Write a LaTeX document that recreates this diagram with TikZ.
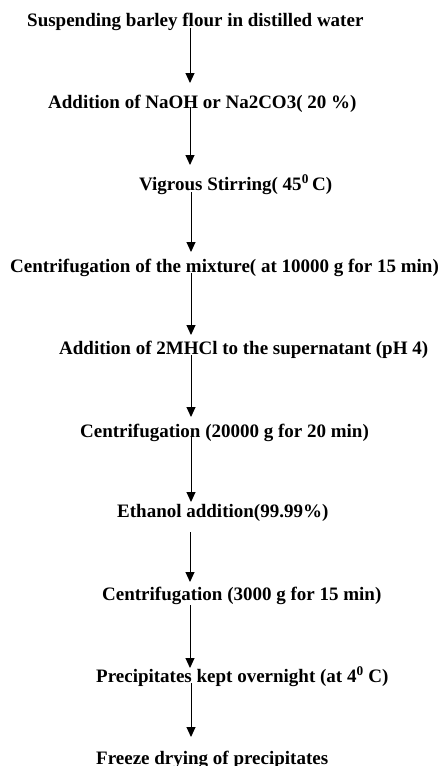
\documentclass[tikz,border=0pt]{standalone}
\usepackage{fontspec}
\setmainfont{Liberation Serif}
\usetikzlibrary{arrows.meta}
\begin{document}
\begin{tikzpicture}[x=1pt,y=-1pt,
  stepbox/.style={anchor=base west,inner sep=0pt,font=\fontsize{19}{22}\selectfont\bfseries,text=black},
  flow/.style={draw=black,line width=1pt,-{Triangle[width=9pt,length=10pt]}}]
\useasboundingbox[fill=white] (0,0) rectangle (443,766);
\node[stepbox] (n1) at (27,26) {Suspending barley flour in distilled water};
\node[stepbox] (n2) at (48,108) {Addition of NaOH or Na2CO3( 20 \%)};
\node[stepbox] (n3) at (139,190) {Vigrous Stirring( 45\textsuperscript{0}\,C)};
\node[stepbox] (n4) at (10,272) {Centrifugation of the mixture( at 10000 g for 15 min)};
\node[stepbox] (n5) at (59,354) {Addition of 2MHCl to the supernatant (pH 4)};
\node[stepbox] (n6) at (80,437) {Centrifugation (20000 g for 20 min)};
\node[stepbox] (n7) at (117,517) {Ethanol addition(99.99\%)};
\node[stepbox] (n8) at (102,600) {Centrifugation (3000 g for 15 min)};
\node[stepbox] (n9) at (96,682) {Precipitates kept overnight (at 4\textsuperscript{0} C)};
\node[stepbox] (n10) at (96,764) {Freeze drying of precipitates};
\coordinate (s1) at (190,28);  \coordinate (e1) at (190,83);
\coordinate (s2) at (190,107); \coordinate (e2) at (190,165);
\coordinate (s3) at (191,192); \coordinate (e3) at (191,252);
\coordinate (s4) at (191,273); \coordinate (e4) at (191,335);
\coordinate (s5) at (191,355); \coordinate (e5) at (191,417);
\coordinate (s6) at (191,437); \coordinate (e6) at (191,502);
\coordinate (s7) at (190,532); \coordinate (e7) at (190,582);
\coordinate (s8) at (190,605); \coordinate (e8) at (190,668);
\coordinate (s9) at (191,683); \coordinate (e9) at (191,737);
\foreach \i in {1,...,9} {\draw[flow] (s\i) -- (e\i);}
\end{tikzpicture}
\end{document}
